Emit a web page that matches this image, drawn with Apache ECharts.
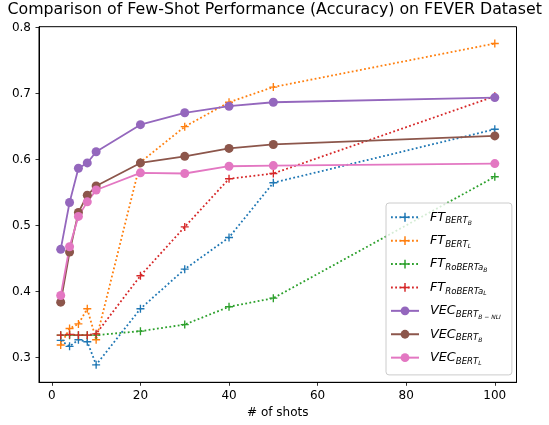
<!DOCTYPE html>
<html>
<head>
<meta charset="utf-8">
<script src="https://cdn.jsdelivr.net/npm/echarts@6/dist/echarts.min.js"></script>
<style>
  html, body { margin: 0; padding: 0; background: #fff; }
  #chart { width: 549px; height: 425px; }
</style>
</head>
<body>
<div id="chart"></div>
<script>
const shots = [2, 4, 6, 8, 10, 20, 30, 40, 50, 100];

const ftBertB = [0.326, 0.317, 0.327, 0.324, 0.289, 0.374, 0.434, 0.482, 0.565, 0.646];
const ftBertL = [0.319, 0.344, 0.351, 0.374, 0.327, 0.596, 0.650, 0.687, 0.710, 0.776];
const ftRobertaB = [0.334, 0.334, 0.334, 0.334, 0.334, 0.340, 0.350, 0.377, 0.390, 0.574];
const ftRobertaL = [0.334, 0.335, 0.334, 0.334, 0.336, 0.424, 0.498, 0.571, 0.579, 0.696];
const vecBertBNli = [0.464, 0.535, 0.587, 0.595, 0.612, 0.653, 0.671, 0.681, 0.687, 0.694];
const vecBertB = [0.384, 0.460, 0.520, 0.546, 0.560, 0.595, 0.605, 0.617, 0.623, 0.636];
const vecBertL = [0.394, 0.468, 0.514, 0.536, 0.554, 0.580, 0.579, 0.590, 0.591, 0.594];

const xTicks = [0, 20, 40, 60, 80, 100];
const yTicks = [0.3, 0.4, 0.5, 0.6, 0.7, 0.8];

// legend labels as math-like subscripts
const legendText = {
  'FT_BERT_B': '{m|FT}{s|BERT}{ss|B}',
  'FT_BERT_L': '{m|FT}{s|BERT}{ss|L}',
  'FT_RoBERTa_B': '{m|FT}{s|RoBERTa}{ss|B}',
  'FT_RoBERTa_L': '{m|FT}{s|RoBERTa}{ss|L}',
  'VEC_BERT_B-NLI': '{m|VEC}{s|BERT}{ss|B − NLI}',
  'VEC_BERT_B': '{m|VEC}{s|BERT}{ss|B}',
  'VEC_BERT_L': '{m|VEC}{s|BERT}{ss|L}'
};

const plus = 'path://M-0.75,-4.5H0.75V-0.75H4.5V0.75H0.75V4.5H-0.75V0.75H-4.5V-0.75H-0.75Z';

function pairs(vals) {
  return shots.map((x, i) => [x, vals[i]]);
}

function ftSeries(name, vals, color) {
  return {
    name: name,
    type: 'line',
    data: pairs(vals),
    symbol: plus,
    symbolSize: 8,
    itemStyle: { color: color },
    lineStyle: { color: color, width: 1.8, type: [1.8, 2.4] },
    emphasis: { disabled: true }
  };
}

function vecSeries(name, vals, color) {
  return {
    name: name,
    type: 'line',
    data: pairs(vals),
    symbol: 'circle',
    symbolSize: 9,
    itemStyle: { color: color },
    lineStyle: { color: color, width: 1.8 },
    emphasis: { disabled: true }
  };
}

const chart = echarts.init(document.getElementById('chart'));

const option = {
  animation: false,
  backgroundColor: '#fff',
  textStyle: { fontFamily: 'DejaVu Sans' },
  title: {
    text: 'Comparison of Few-Shot Performance (Accuracy) on FEVER Dataset',
    left: 7.5,
    top: 2,
    padding: 0,
    textStyle: { fontFamily: 'DejaVu Sans', fontSize: 15.8, fontWeight: 'normal', color: '#000' }
  },
  grid: {
    left: 39, right: 32.5, top: 26.7, bottom: 42.7,
    show: true, borderColor: '#000', borderWidth: 1
  },
  legend: {
    orient: 'vertical',
    left: 386,
    top: 203,
    padding: [5, 11, 8, 4],
    itemWidth: 28,
    itemHeight: 11,
    itemGap: 4.9,
    backgroundColor: 'rgba(255,255,255,0.8)',
    borderColor: '#ccc',
    borderWidth: 1,
    borderRadius: 3,
    formatter: (name) => legendText[name],
    textStyle: {
      color: '#000',
      rich: {
        m: { fontFamily: 'DejaVu Sans', fontStyle: 'italic', fontSize: 12.8, lineHeight: 16, color: '#000', padding: [0, 0, 0, 6] },
        s: { fontFamily: 'DejaVu Sans', fontStyle: 'italic', fontSize: 8.6, lineHeight: 16, color: '#000', padding: [8, 0, 0, 0] },
        ss: { fontFamily: 'DejaVu Sans', fontStyle: 'italic', fontSize: 6, lineHeight: 16, color: '#000', padding: [12.5, 0, 0, 0] }
      }
    }
  },
  xAxis: {
    type: 'value',
    min: -2.9,
    max: 104.9,
    name: '# of shots',
    nameLocation: 'middle',
    nameGap: 25,
    nameTextStyle: { fontFamily: 'DejaVu Sans', fontSize: 12, color: '#000' },
    axisLine: { show: true, onZero: false, lineStyle: { color: '#000', width: 1 } },
    axisTick: { show: true, customValues: xTicks, length: 3.5, lineStyle: { color: '#000', width: 0.8 } },
    axisLabel: { customValues: xTicks, fontSize: 12, color: '#000', margin: 8, formatter: (v) => String(v) },
    splitLine: { show: false }
  },
  yAxis: {
    type: 'value',
    min: 0.2625,
    max: 0.8015,
    axisLine: { show: true, onZero: false, lineStyle: { color: '#000', width: 1 } },
    axisTick: { show: true, customValues: yTicks, length: 3.5, lineStyle: { color: '#000', width: 0.8 } },
    axisLabel: { customValues: yTicks, fontSize: 12, color: '#000', margin: 8, formatter: (v) => v.toFixed(1) },
    splitLine: { show: false }
  },
  series: [
    ftSeries('FT_BERT_B', ftBertB, '#1f77b4'),
    ftSeries('FT_BERT_L', ftBertL, '#ff7f0e'),
    ftSeries('FT_RoBERTa_B', ftRobertaB, '#2ca02c'),
    ftSeries('FT_RoBERTa_L', ftRobertaL, '#d62728'),
    vecSeries('VEC_BERT_B-NLI', vecBertBNli, '#9467bd'),
    vecSeries('VEC_BERT_B', vecBertB, '#8c564b'),
    vecSeries('VEC_BERT_L', vecBertL, '#e377c2')
  ]
};

chart.setOption(option);
window.addEventListener('resize', () => chart.resize());
</script>
</body>
</html>
